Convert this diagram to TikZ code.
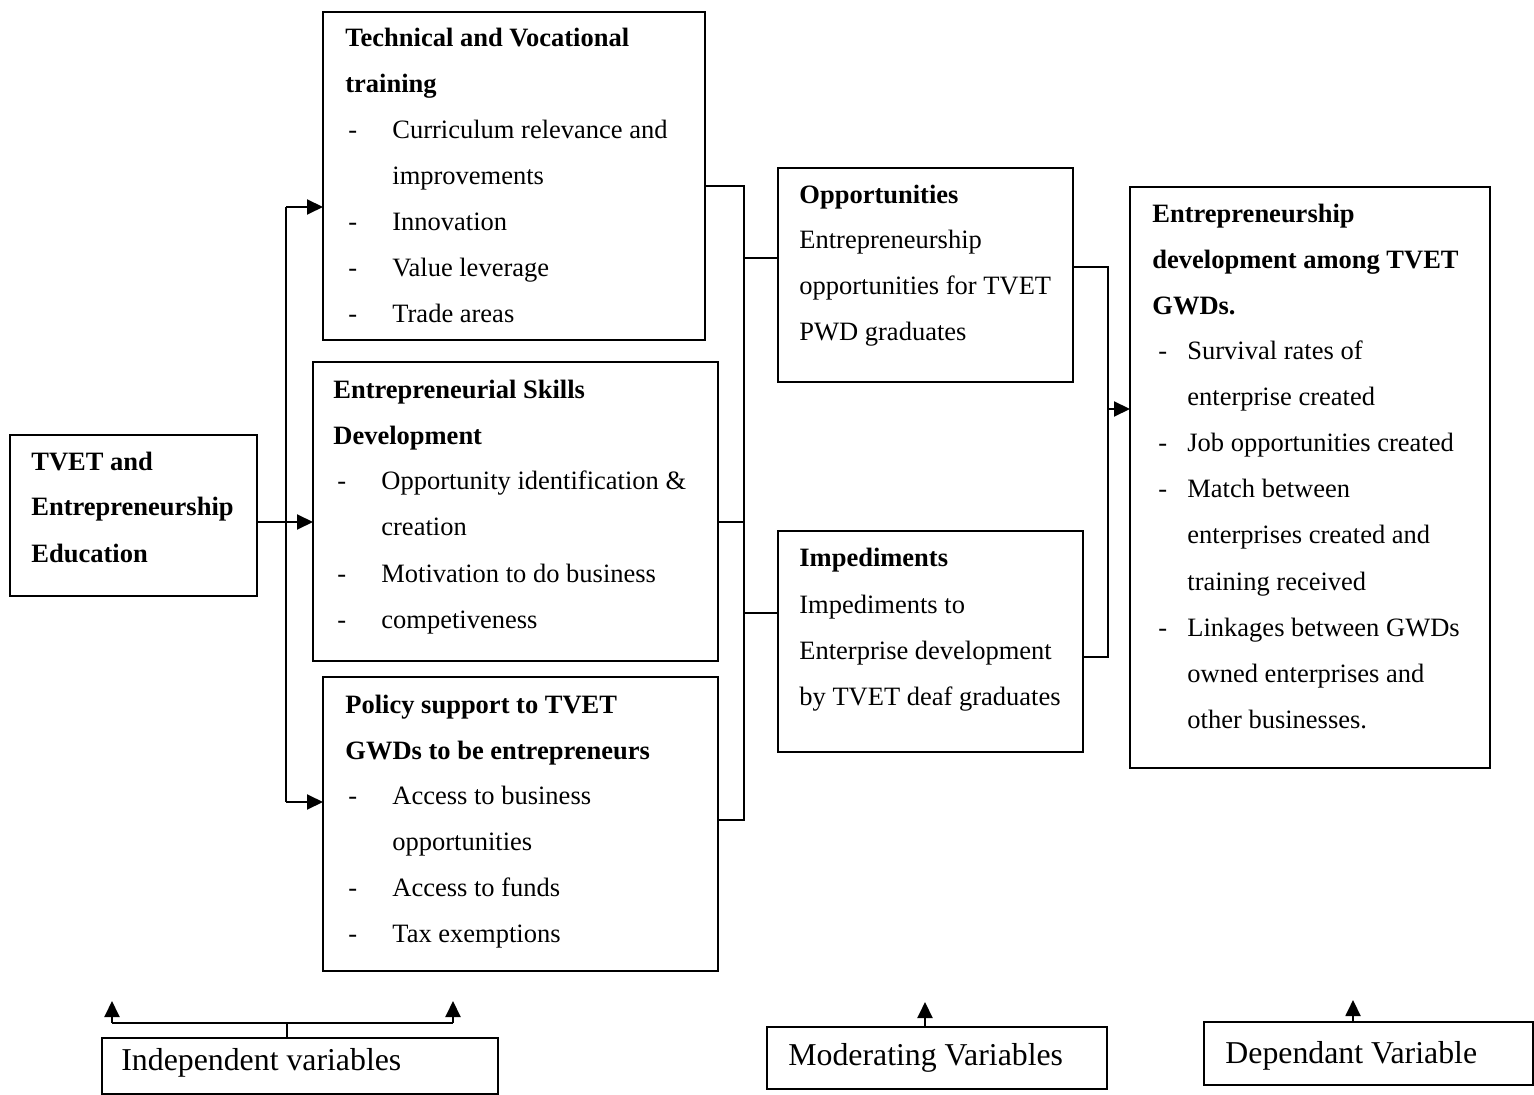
\documentclass[tikz,border=0pt]{standalone}
\usepackage{fontspec}
\setmainfont{Liberation Serif}
\usetikzlibrary{arrows.meta}
\tikzset{
  box/.style={draw, line width=1pt, inner sep=0pt, outer sep=0pt, anchor=north west},
  conn/.style={line width=1pt},
  arr/.style={line width=1pt, -{Triangle[length=8pt,width=7.5pt]}},
  txt/.style={anchor=base west, inner sep=0pt, font=\fontsize{13.25}{16}\selectfont},
  btxt/.style={txt, font=\fontsize{13.25}{16}\selectfont\bfseries},
  ltxt/.style={anchor=base west, inner sep=0pt, font=\fontsize{15.9}{19}\selectfont}
}
\begin{document}
\begin{tikzpicture}[x=0.5pt,y=-0.5pt]
\useasboundingbox[fill=white] (0,0) rectangle (1534,1095);
% boxes
\node[box, minimum width=123.5pt, minimum height=80.5pt] (A) at (10,435) {};
\node[box, minimum width=191pt, minimum height=164pt] (T1) at (323,12) {};
\node[box, minimum width=202.5pt, minimum height=149.5pt] (T2) at (313,362) {};
\node[box, minimum width=197.5pt, minimum height=147pt] (T3) at (323,677) {};
\node[box, minimum width=147.5pt, minimum height=107pt] (O) at (778,168) {};
\node[box, minimum width=152.5pt, minimum height=110.5pt] (I) at (778,531) {};
\node[box, minimum width=180pt, minimum height=290.5pt] (D) at (1130,187) {};
\node[box, minimum width=198pt, minimum height=28pt] (IV) at (102,1038) {};
\node[box, minimum width=170pt, minimum height=31pt] (MV) at (767,1027) {};
\node[box, minimum width=164.5pt, minimum height=31.5pt] (DV) at (1204,1022) {};
% A text
\node[btxt] (a1) at (31,471) {TVET and};
\node[btxt] (a2) at (31,516) {Entrepreneurship};
\node[btxt] (a3) at (31,562) {Education};
% T1 text
\node[btxt] (t1h1) at (345,47) {Technical and Vocational};
\node[btxt] (t1h2) at (345,93) {training};
\node[txt] (t1d1) at (348,139) {-};
\node[txt] (t1i1) at (392,139) {Curriculum relevance and};
\node[txt] (t1i1b) at (392,185) {improvements};
\node[txt] (t1d2) at (348,231) {-};
\node[txt] (t1i2) at (392,231) {Innovation};
\node[txt] (t1d3) at (348,277) {-};
\node[txt] (t1i3) at (392,277) {Value leverage};
\node[txt] (t1d4) at (348,323) {-};
\node[txt] (t1i4) at (392,323) {Trade areas};
% T2 text
\node[btxt] (t2h1) at (333,399) {Entrepreneurial Skills};
\node[btxt] (t2h2) at (333,445) {Development};
\node[txt] (t2d1) at (337,490) {-};
\node[txt] (t2i1) at (381,490) {Opportunity identification \&};
\node[txt] (t2i1b) at (381,536) {creation};
\node[txt] (t2d2) at (337,582) {-};
\node[txt] (t2i2) at (381,582) {Motivation to do business};
\node[txt] (t2d3) at (337,628) {-};
\node[txt] (t2i3) at (381,628) {competiveness};
% T3 text
\node[btxt] (t3h1) at (345,713) {Policy support to TVET};
\node[btxt] (t3h2) at (345,759) {GWDs to be entrepreneurs};
\node[txt] (t3d1) at (348,804) {-};
\node[txt] (t3i1) at (392,804) {Access to business};
\node[txt] (t3i1b) at (392,850) {opportunities};
\node[txt] (t3d2) at (348,896) {-};
\node[txt] (t3i2) at (392,896) {Access to funds};
\node[txt] (t3d3) at (348,942) {-};
\node[txt] (t3i3) at (392,942) {Tax exemptions};
% O text
\node[btxt] (o1) at (799,204) {Opportunities};
\node[txt] (o2) at (799,249) {Entrepreneurship};
\node[txt] (o3) at (799,295) {opportunities for TVET};
\node[txt] (o4) at (799,341) {PWD graduates};
% I text
\node[btxt] (i1) at (799,567) {Impediments};
\node[txt] (i2) at (799,613) {Impediments to};
\node[txt] (i3) at (799,659) {Enterprise development};
\node[txt] (i4) at (799,705) {by TVET deaf graduates};
% D text
\node[btxt] (dh1) at (1152,223) {Entrepreneurship};
\node[btxt] (dh2) at (1152,269) {development among TVET};
\node[btxt] (dh3) at (1152,315) {GWDs.};
\node[txt] (dd1) at (1158,360) {-};
\node[txt] (di1) at (1187,360) {Survival rates of};
\node[txt] (di1b) at (1187,406) {enterprise created};
\node[txt] (dd2) at (1158,452) {-};
\node[txt] (di2) at (1187,452) {Job opportunities created};
\node[txt] (dd3) at (1158,498) {-};
\node[txt] (di3) at (1187,498) {Match between};
\node[txt] (di3b) at (1187,544) {enterprises created and};
\node[txt] (di3c) at (1187,590) {training received};
\node[txt] (dd4) at (1158,636) {-};
\node[txt] (di4) at (1187,636) {Linkages between GWDs};
\node[txt] (di4b) at (1187,682) {owned enterprises and};
\node[txt] (di4c) at (1187,728) {other businesses.};
% bottom labels
\node[ltxt] (ivt) at (121,1070) {Independent variables};
\node[ltxt] (mvt) at (788,1065) {Moderating Variables};
\node[ltxt] (dvt) at (1225,1063) {Dependant Variable};
% left connectors
\coordinate (busL) at (286,522);
\draw[arr] (A.east |- busL) -- (T2.west |- busL);
\draw[conn] (busL |- 0,207) -- (busL |- 0,802);
\draw[arr] (busL |- 0,207) -- (T1.west |- 0,207);
\draw[arr] (busL |- 0,802) -- (T3.west |- 0,802);
% middle connectors
\coordinate (busM) at (744,522);
\draw[conn] (T1.east |- 0,186) -- (busM |- 0,186) -- (busM |- 0,820) -- (T3.east |- 0,820);
\draw[conn] (T2.east |- busM) -- (busM);
\draw[conn] (busM |- 0,258) -- (O.west |- 0,258);
\draw[conn] (busM |- 0,613) -- (I.west |- 0,613);
% right connectors
\coordinate (busR) at (1108,409);
\draw[conn] (O.east |- 0,267) -- (busR |- 0,267) -- (busR |- 0,657) -- (I.east |- 0,657);
\draw[arr] (busR) -- (D.west |- busR);
% bottom arrows
\coordinate (ivs) at (287,1023);
\coordinate (ivl) at (112,1023);
\coordinate (ivr) at (453,1023);
\draw[conn] (IV.north -| ivs) -- (ivs);
\draw[conn] (ivl) -- (ivr);
\draw[arr] (ivl) -- ++(0,-22);
\draw[arr] (ivr) -- ++(0,-22);
\coordinate (mva) at (925,1002);
\draw[arr] (MV.north -| mva) -- (mva);
\coordinate (dva) at (1353,1000);
\draw[arr] (DV.north -| dva) -- (dva);
\end{tikzpicture}
\end{document}
